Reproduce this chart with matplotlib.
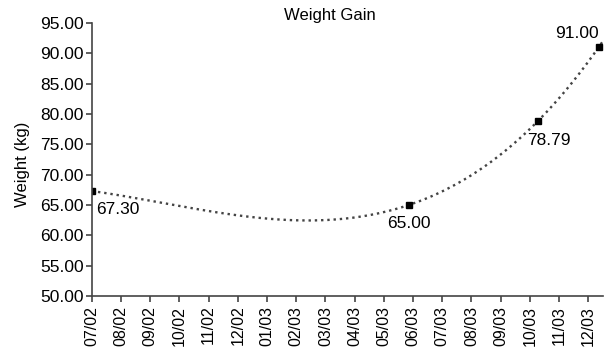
import numpy as np
from matplotlib import pyplot as plt

plt.rcParams['font.family'] = ['Liberation Sans', 'DejaVu Sans']

month_labels = ["07/02", "08/02", "09/02", "10/02", "11/02", "12/02",
                "01/03", "02/03", "03/03", "04/03", "05/03", "06/03",
                "07/03", "08/03", "09/03", "10/03", "11/03", "12/03"]

# months since 07/02 for each weighing
months = [0.0, 10.86, 15.27, 17.36]
weight = [67.30, 65.00, 78.79, 91.00]
weight_labels = ["67.30", "65.00", "78.79", "91.00"]

fig = plt.figure(figsize=(6.04, 3.47), dpi=100)
ax = fig.add_axes([0.152, 0.147, 0.846, 0.787])

# polynomial trendline through the points
coef = np.polyfit(months, weight, 3)
xs = np.linspace(0, 17.5, 300)
ax.plot(xs, np.polyval(coef, xs), color='#444444', linestyle=':', linewidth=1.7)
ax.plot(months, weight, linestyle='none', marker='s', markersize=4.5, color='black')

offsets = [(3, -13.5), (0, -13), (8, -14), (0, 10)]
aligns = ['left', 'center', 'center', 'right']
for x, y, t, off, ha in zip(months, weight, weight_labels, offsets, aligns):
    ax.annotate(t, (x, y), xytext=off, textcoords='offset points',
                ha=ha, va='center', fontsize=12.5)

ax.set_xlim(0, 17.5)
ax.set_ylim(50, 95)
ax.set_xticks(range(len(month_labels)))
ax.set_xticklabels(month_labels, rotation=90, fontsize=11.5)
ax.set_yticks(np.arange(50, 96, 5))
ax.set_yticklabels(["%.2f" % v for v in np.arange(50, 96, 5)], fontsize=12.5)
ax.spines['top'].set_visible(False)
ax.spines['right'].set_visible(False)
for s in ['left', 'bottom']:
    ax.spines[s].set_color('#444444')
    ax.spines[s].set_linewidth(1.2)
ax.tick_params(length=4, color='#444444', width=1.2, pad=2)
ax.tick_params(axis='x', pad=3)
fig.text(0.037, 0.527, "Weight (kg)", rotation=90, ha='center', va='center', fontsize=12)
fig.text(0.546, 0.954, "Weight Gain", ha='center', va='center', fontsize=12)

plt.savefig('out.png', dpi=100)
